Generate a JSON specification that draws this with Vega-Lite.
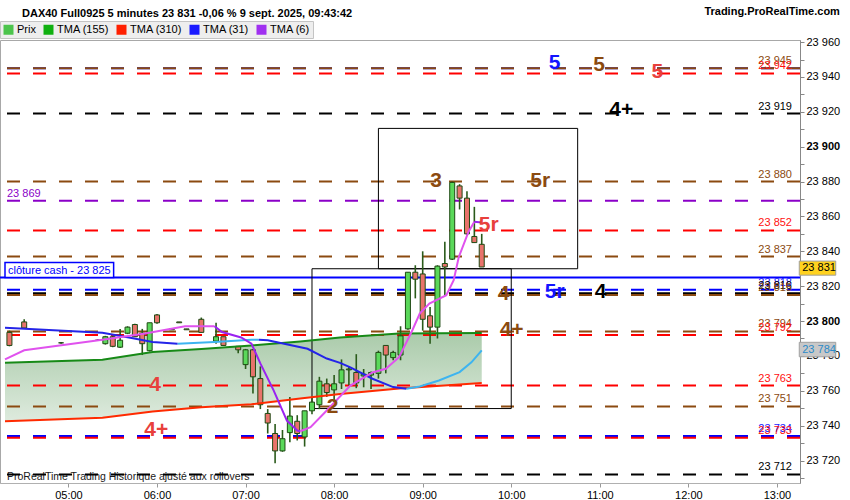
{
  "$schema": "https://vega.github.io/schema/vega-lite/v6.json",
  "width": 800,
  "height": 443,
  "autosize": {"type": "none"},
  "padding": {"top": 40, "left": 0, "right": 50, "bottom": 17},
  "background": "#ffffff",
  "title": {"text": "DAX40 Full0925 5 minutes 23 831 -0,06 % 9 sept. 2025, 09:43:42", "anchor": "start", "frame": "group", "dx": 22, "offset": -13, "fontSize": 11, "fontWeight": "bold", "font": "Liberation Sans", "color": "#000000"},
  "config": {
    "view": {"stroke": "#a8a8a8", "fill": {"gradient": "linear", "x1": 0, "y1": 0, "x2": 0, "y2": 1, "stops": [{"offset": 0, "color": "#ececec"}, {"offset": 1, "color": "#bcbcbc"}]}},
    "font": "Liberation Sans",
    "axis": {"labelFont": "Liberation Sans"},
    "text": {"font": "Liberation Sans"},
    "legend": {"labelFont": "Liberation Sans"}
  },
  "datasets": {
    "candles": [
      {"t": "2025-09-09T04:20:00", "o": 23793.5, "h": 23794.5, "l": 23785.5, "c": 23786},
      {"t": "2025-09-09T04:30:00", "o": 23799.5, "h": 23801, "l": 23795.5, "c": 23796},
      {"t": "2025-09-09T04:55:00", "o": 23787.5, "h": 23788, "l": 23787, "c": 23787.5},
      {"t": "2025-09-09T05:20:00", "o": 23789, "h": 23789.5, "l": 23788.5, "c": 23789},
      {"t": "2025-09-09T05:25:00", "o": 23787, "h": 23791.5, "l": 23786.5, "c": 23791},
      {"t": "2025-09-09T05:30:00", "o": 23791, "h": 23791.5, "l": 23785, "c": 23785.5},
      {"t": "2025-09-09T05:35:00", "o": 23785, "h": 23795.5, "l": 23784.5, "c": 23789},
      {"t": "2025-09-09T05:40:00", "o": 23793, "h": 23797, "l": 23792.5, "c": 23796.5},
      {"t": "2025-09-09T05:45:00", "o": 23798, "h": 23798.5, "l": 23791, "c": 23791},
      {"t": "2025-09-09T05:50:00", "o": 23793, "h": 23795.5, "l": 23780.5, "c": 23787},
      {"t": "2025-09-09T05:55:00", "o": 23783, "h": 23799, "l": 23782.5, "c": 23799},
      {"t": "2025-09-09T06:00:00", "o": 23803.5, "h": 23804, "l": 23798.5, "c": 23799},
      {"t": "2025-09-09T06:10:00", "o": 23795.5, "h": 23795.5, "l": 23795, "c": 23795},
      {"t": "2025-09-09T06:15:00", "o": 23799.5, "h": 23799.5, "l": 23799, "c": 23799},
      {"t": "2025-09-09T06:20:00", "o": 23795.5, "h": 23795.5, "l": 23795, "c": 23795},
      {"t": "2025-09-09T06:30:00", "o": 23801, "h": 23802, "l": 23793.5, "c": 23793.5},
      {"t": "2025-09-09T06:40:00", "o": 23788.5, "h": 23799, "l": 23787, "c": 23791},
      {"t": "2025-09-09T06:45:00", "o": 23791, "h": 23791, "l": 23786, "c": 23786},
      {"t": "2025-09-09T06:55:00", "o": 23785.5, "h": 23785.5, "l": 23781.5, "c": 23783.5},
      {"t": "2025-09-09T07:00:00", "o": 23775, "h": 23784, "l": 23772.5, "c": 23783.5},
      {"t": "2025-09-09T07:05:00", "o": 23783.5, "h": 23784, "l": 23758.5, "c": 23768},
      {"t": "2025-09-09T07:10:00", "o": 23767, "h": 23774, "l": 23749.5, "c": 23752},
      {"t": "2025-09-09T07:15:00", "o": 23747, "h": 23749.5, "l": 23735.5, "c": 23741.5},
      {"t": "2025-09-09T07:20:00", "o": 23735.5, "h": 23741, "l": 23718.5, "c": 23725.5},
      {"t": "2025-09-09T07:25:00", "o": 23725.5, "h": 23737.5, "l": 23725, "c": 23732.5},
      {"t": "2025-09-09T07:30:00", "o": 23736, "h": 23756.5, "l": 23730.5, "c": 23745.5},
      {"t": "2025-09-09T07:35:00", "o": 23742.5, "h": 23746, "l": 23731.5, "c": 23735.5},
      {"t": "2025-09-09T07:40:00", "o": 23733.5, "h": 23748.5, "l": 23728, "c": 23748.5},
      {"t": "2025-09-09T07:45:00", "o": 23748.5, "h": 23756.5, "l": 23746.5, "c": 23753.5},
      {"t": "2025-09-09T07:50:00", "o": 23752, "h": 23768, "l": 23749.5, "c": 23765.5},
      {"t": "2025-09-09T07:55:00", "o": 23764, "h": 23767, "l": 23756.5, "c": 23759},
      {"t": "2025-09-09T08:00:00", "o": 23760.5, "h": 23769, "l": 23753.5, "c": 23764},
      {"t": "2025-09-09T08:05:00", "o": 23764.5, "h": 23778, "l": 23761, "c": 23772},
      {"t": "2025-09-09T08:10:00", "o": 23772, "h": 23774, "l": 23763, "c": 23772.5},
      {"t": "2025-09-09T08:15:00", "o": 23770.5, "h": 23781, "l": 23761.5, "c": 23764.5},
      {"t": "2025-09-09T08:20:00", "o": 23768.5, "h": 23772.5, "l": 23762, "c": 23769.5},
      {"t": "2025-09-09T08:25:00", "o": 23769, "h": 23771, "l": 23761, "c": 23770.5},
      {"t": "2025-09-09T08:30:00", "o": 23770, "h": 23783, "l": 23767, "c": 23782},
      {"t": "2025-09-09T08:35:00", "o": 23786, "h": 23786, "l": 23770, "c": 23780.5},
      {"t": "2025-09-09T08:40:00", "o": 23779, "h": 23783, "l": 23777.5, "c": 23782},
      {"t": "2025-09-09T08:45:00", "o": 23780.5, "h": 23797, "l": 23777.5, "c": 23791.5},
      {"t": "2025-09-09T08:50:00", "o": 23795.5, "h": 23828, "l": 23795, "c": 23828},
      {"t": "2025-09-09T08:55:00", "o": 23828, "h": 23832, "l": 23813, "c": 23824},
      {"t": "2025-09-09T09:00:00", "o": 23827, "h": 23840, "l": 23794.5, "c": 23801},
      {"t": "2025-09-09T09:05:00", "o": 23803, "h": 23808, "l": 23787, "c": 23796.5},
      {"t": "2025-09-09T09:10:00", "o": 23796.5, "h": 23832, "l": 23790, "c": 23831.5},
      {"t": "2025-09-09T09:15:00", "o": 23833, "h": 23845.5, "l": 23815, "c": 23831},
      {"t": "2025-09-09T09:20:00", "o": 23835.5, "h": 23880, "l": 23835, "c": 23879.5},
      {"t": "2025-09-09T09:25:00", "o": 23877.5, "h": 23878.5, "l": 23864, "c": 23870.5},
      {"t": "2025-09-09T09:30:00", "o": 23870.5, "h": 23874.5, "l": 23849.5, "c": 23850},
      {"t": "2025-09-09T09:35:00", "o": 23848.5, "h": 23865.5, "l": 23845, "c": 23845},
      {"t": "2025-09-09T09:40:00", "o": 23844, "h": 23850, "l": 23831, "c": 23831}
    ],
    "band": [
      {"t": "2025-09-09T04:17:00", "g": 23776.1, "r": 23742.5},
      {"t": "2025-09-09T05:23:00", "g": 23777.8, "r": 23744.5},
      {"t": "2025-09-09T05:57:00", "g": 23782.3, "r": 23748.1},
      {"t": "2025-09-09T06:30:00", "g": 23784, "r": 23750.6},
      {"t": "2025-09-09T07:04:00", "g": 23786, "r": 23752.3},
      {"t": "2025-09-09T07:37:00", "g": 23788.3, "r": 23755.6},
      {"t": "2025-09-09T08:04:00", "g": 23790.5, "r": 23758.2},
      {"t": "2025-09-09T08:44:00", "g": 23792.8, "r": 23761.3},
      {"t": "2025-09-09T09:40:00", "g": 23793.1, "r": 23764.4}
    ],
    "ma": [
      {"t": "2025-09-09T04:17:00", "v": 23796.2, "seg": "b1", "trend": "31 baisse"},
      {"t": "2025-09-09T05:23:00", "v": 23793.3, "seg": "b1", "trend": "31 baisse"},
      {"t": "2025-09-09T05:41:00", "v": 23790.5, "seg": "b1", "trend": "31 baisse"},
      {"t": "2025-09-09T05:57:00", "v": 23788, "seg": "b1", "trend": "31 baisse"},
      {"t": "2025-09-09T06:14:00", "v": 23787, "seg": "b1", "trend": "31 baisse"},
      {"t": "2025-09-09T06:14:00", "v": 23787, "seg": "b2", "trend": "31 hausse"},
      {"t": "2025-09-09T06:39:00", "v": 23788, "seg": "b2", "trend": "31 hausse"},
      {"t": "2025-09-09T07:04:00", "v": 23789.3, "seg": "b2", "trend": "31 hausse"},
      {"t": "2025-09-09T07:09:00", "v": 23789.3, "seg": "b2", "trend": "31 hausse"},
      {"t": "2025-09-09T07:09:00", "v": 23789.3, "seg": "b3", "trend": "31 baisse"},
      {"t": "2025-09-09T07:15:00", "v": 23789, "seg": "b3", "trend": "31 baisse"},
      {"t": "2025-09-09T07:42:00", "v": 23784.1, "seg": "b3", "trend": "31 baisse"},
      {"t": "2025-09-09T07:55:00", "v": 23778.5, "seg": "b3", "trend": "31 baisse"},
      {"t": "2025-09-09T08:04:00", "v": 23776, "seg": "b3", "trend": "31 baisse"},
      {"t": "2025-09-09T08:11:00", "v": 23773.4, "seg": "b3", "trend": "31 baisse"},
      {"t": "2025-09-09T08:26:00", "v": 23766.9, "seg": "b3", "trend": "31 baisse"},
      {"t": "2025-09-09T08:40:00", "v": 23762.1, "seg": "b3", "trend": "31 baisse"},
      {"t": "2025-09-09T08:49:00", "v": 23761.2, "seg": "b3", "trend": "31 baisse"},
      {"t": "2025-09-09T08:49:00", "v": 23761.2, "seg": "b4", "trend": "31 hausse"},
      {"t": "2025-09-09T08:58:00", "v": 23762.5, "seg": "b4", "trend": "31 hausse"},
      {"t": "2025-09-09T09:11:00", "v": 23765.9, "seg": "b4", "trend": "31 hausse"},
      {"t": "2025-09-09T09:25:00", "v": 23770.7, "seg": "b4", "trend": "31 hausse"},
      {"t": "2025-09-09T09:33:00", "v": 23776.3, "seg": "b4", "trend": "31 hausse"},
      {"t": "2025-09-09T09:40:00", "v": 23783.2, "seg": "b4", "trend": "31 hausse"},
      {"t": "2025-09-09T04:17:00", "v": 23778, "seg": "p1", "trend": "6 hausse"},
      {"t": "2025-09-09T04:30:00", "v": 23783.2, "seg": "p1", "trend": "6 hausse"},
      {"t": "2025-09-09T05:23:00", "v": 23789.3, "seg": "p1", "trend": "6 hausse"},
      {"t": "2025-09-09T05:52:00", "v": 23792.8, "seg": "p1", "trend": "6 hausse"},
      {"t": "2025-09-09T06:19:00", "v": 23797, "seg": "p1", "trend": "6 hausse"},
      {"t": "2025-09-09T06:39:00", "v": 23797, "seg": "p1", "trend": "6 hausse"},
      {"t": "2025-09-09T06:39:00", "v": 23797, "seg": "p2", "trend": "6 baisse"},
      {"t": "2025-09-09T06:44:00", "v": 23793.7, "seg": "p2", "trend": "6 baisse"},
      {"t": "2025-09-09T06:57:00", "v": 23790.6, "seg": "p2", "trend": "6 baisse"},
      {"t": "2025-09-09T07:04:00", "v": 23787, "seg": "p2", "trend": "6 baisse"},
      {"t": "2025-09-09T07:10:00", "v": 23775.7, "seg": "p2", "trend": "6 baisse"},
      {"t": "2025-09-09T07:19:00", "v": 23760.2, "seg": "p2", "trend": "6 baisse"},
      {"t": "2025-09-09T07:28:00", "v": 23742.9, "seg": "p2", "trend": "6 baisse"},
      {"t": "2025-09-09T07:35:00", "v": 23737.2, "seg": "p2", "trend": "6 baisse"},
      {"t": "2025-09-09T07:37:00", "v": 23736.8, "seg": "p2", "trend": "6 baisse"},
      {"t": "2025-09-09T07:37:00", "v": 23736.8, "seg": "p3", "trend": "6 hausse"},
      {"t": "2025-09-09T07:44:00", "v": 23739.1, "seg": "p3", "trend": "6 hausse"},
      {"t": "2025-09-09T07:55:00", "v": 23748.7, "seg": "p3", "trend": "6 hausse"},
      {"t": "2025-09-09T08:11:00", "v": 23763, "seg": "p3", "trend": "6 hausse"},
      {"t": "2025-09-09T08:26:00", "v": 23770.5, "seg": "p3", "trend": "6 hausse"},
      {"t": "2025-09-09T08:35:00", "v": 23772.6, "seg": "p3", "trend": "6 hausse"},
      {"t": "2025-09-09T08:44:00", "v": 23779.3, "seg": "p3", "trend": "6 hausse"},
      {"t": "2025-09-09T08:53:00", "v": 23794.7, "seg": "p3", "trend": "6 hausse"},
      {"t": "2025-09-09T08:58:00", "v": 23804.3, "seg": "p3", "trend": "6 hausse"},
      {"t": "2025-09-09T09:04:30", "v": 23810, "seg": "p3", "trend": "6 hausse"},
      {"t": "2025-09-09T09:16:00", "v": 23814.8, "seg": "p3", "trend": "6 hausse"},
      {"t": "2025-09-09T09:21:00", "v": 23823.4, "seg": "p3", "trend": "6 hausse"},
      {"t": "2025-09-09T09:24:30", "v": 23836.8, "seg": "p3", "trend": "6 hausse"},
      {"t": "2025-09-09T09:31:00", "v": 23851.1, "seg": "p3", "trend": "6 hausse"},
      {"t": "2025-09-09T09:35:00", "v": 23856.9, "seg": "p3", "trend": "6 hausse"},
      {"t": "2025-09-09T09:35:00", "v": 23856.9, "seg": "p4", "trend": "6 baisse"},
      {"t": "2025-09-09T09:40:00", "v": 23856.5, "seg": "p4", "trend": "6 baisse"}
    ],
    "levels": [
      {"v": 23945, "g": "bleu", "lab": ""},
      {"v": 23945, "g": "brun", "lab": "23 945"},
      {"v": 23942, "g": "rouge", "lab": "23 942"},
      {"v": 23919, "g": "noir", "lab": "23 919"},
      {"v": 23880, "g": "brun", "lab": "23 880"},
      {"v": 23869, "g": "violet", "lab": ""},
      {"v": 23852, "g": "rouge", "lab": "23 852"},
      {"v": 23837, "g": "brun", "lab": "23 837"},
      {"v": 23818, "g": "bleu", "lab": "23 818"},
      {"v": 23816, "g": "noir", "lab": "23 816"},
      {"v": 23815, "g": "brun", "lab": "23 815"},
      {"v": 23794, "g": "brun", "lab": "23 794"},
      {"v": 23792, "g": "rouge", "lab": "23 792"},
      {"v": 23763, "g": "rouge", "lab": "23 763"},
      {"v": 23751, "g": "brun", "lab": "23 751"},
      {"v": 23734, "g": "bleu", "lab": "23 734"},
      {"v": 23733, "g": "rouge", "lab": "23 733"},
      {"v": 23712, "g": "noir", "lab": "23 712"}
    ],
    "marks": [
      {"t": "2025-09-09T10:29:24", "v": 23948.0, "txt": "5", "g": "bleu"},
      {"t": "2025-09-09T10:59:36", "v": 23946.7, "txt": "5", "g": "brun"},
      {"t": "2025-09-09T11:39:00", "v": 23942.7, "txt": "5", "g": "rouge"},
      {"t": "2025-09-09T11:14:30", "v": 23920.8, "txt": "4+", "g": "noir"},
      {"t": "2025-09-09T09:09:00", "v": 23880.3, "txt": "3", "g": "brun"},
      {"t": "2025-09-09T10:19:36", "v": 23880.3, "txt": "5r", "g": "brun"},
      {"t": "2025-09-09T09:44:42", "v": 23855.1, "txt": "5r", "g": "rouge"},
      {"t": "2025-09-09T09:54:48", "v": 23815.5, "txt": "4", "g": "brun"},
      {"t": "2025-09-09T10:29:24", "v": 23816.6, "txt": "5r", "g": "bleu"},
      {"t": "2025-09-09T11:00:30", "v": 23816.6, "txt": "4", "g": "noir"},
      {"t": "2025-09-09T10:00:15", "v": 23794.8, "txt": "4+", "g": "brun"},
      {"t": "2025-09-09T05:58:42", "v": 23763.4, "txt": "4", "g": "rouge"},
      {"t": "2025-09-09T05:59:30", "v": 23737.6, "txt": "4+", "g": "rouge"},
      {"t": "2025-09-09T07:59:00", "v": 23750.8, "txt": "2", "g": "brun"}
    ],
    "boxes": [
      {"t1": "2025-09-09T08:30:00", "t2": "2025-09-09T10:45:00", "v1": 23830, "v2": 23910.5},
      {"t1": "2025-09-09T07:45:00", "t2": "2025-09-09T10:00:00", "v1": 23749.8, "v2": 23830}
    ],
    "tags": [
      {"t1": "2025-09-09T13:15:08", "t2": "2025-09-09T13:39:51", "v1": 23826.3, "v2": 23834.4, "vm": 23830.3, "lab": "23 831", "g": "prix"},
      {"t1": "2025-09-09T13:15:08", "t2": "2025-09-09T13:39:51", "v1": 23779.5, "v2": 23787.8, "vm": 23783.6, "lab": "23 784", "g": "tma31"}
    ],
    "legende": [
      {"serie": "Prix"}, {"serie": "TMA (155)"}, {"serie": "TMA (310)"}, {"serie": "TMA (31)"}, {"serie": "TMA (6)"}
    ]
  },
  "resolve": {"scale": {"color": "independent"}, "axis": {"y": "independent"}},
  "layer": [
    {
      "data": {"name": "band"},
      "mark": {"type": "area", "clip": false, "color": {"gradient": "linear", "x1": 0, "y1": 0, "x2": 0, "y2": 1, "stops": [{"offset": 0, "color": "rgba(20,110,20,0.36)"}, {"offset": 1, "color": "rgba(20,110,20,0.14)"}]}},
      "encoding": {
        "x": {"field": "t", "type": "temporal",
          "scale": {"domain": [{"year": 2025, "month": 9, "date": 9, "hours": 4, "minutes": 17}, {"year": 2025, "month": 9, "date": 9, "hours": 13, "minutes": 12, "seconds": 15}]},
          "axis": {"title": null, "grid": false, "format": "%H:%M", "labelFlush": false,
            "values": [
              {"year": 2025, "month": 9, "date": 9, "hours": 5},
              {"year": 2025, "month": 9, "date": 9, "hours": 6},
              {"year": 2025, "month": 9, "date": 9, "hours": 7},
              {"year": 2025, "month": 9, "date": 9, "hours": 8},
              {"year": 2025, "month": 9, "date": 9, "hours": 9},
              {"year": 2025, "month": 9, "date": 9, "hours": 10},
              {"year": 2025, "month": 9, "date": 9, "hours": 11},
              {"year": 2025, "month": 9, "date": 9, "hours": 12},
              {"year": 2025, "month": 9, "date": 9, "hours": 13}
            ],
            "labelFontSize": 11, "labelColor": "#000000", "tickColor": "#999999", "tickSize": 4, "domainColor": "#b0b0b0", "labelPadding": 2}},
        "y": {"field": "g", "type": "quantitative",
          "scale": {"domain": [23707.1, 23961.2], "nice": false, "zero": false},
          "axis": {"orient": "right", "title": null, "grid": false,
            "values": [23710, 23720, 23730, 23740, 23750, 23760, 23770, 23780, 23790, 23800, 23810, 23820, 23830, 23840, 23850, 23860, 23870, 23880, 23890, 23900, 23910, 23920, 23930, 23940, 23950, 23960],
            "labelExpr": "datum.value % 20 === 0 ? replace(format(datum.value, ','), ',', ' ') : ''",
            "labelFontWeight": {"condition": {"test": "datum.value % 100 === 0", "value": "bold"}, "value": "normal"},
            "labelFontSize": 11, "labelColor": "#000000", "tickColor": "#888888", "tickSize": 4, "domainColor": "#888888", "labelPadding": 2, "labelOverlap": false, "labelBound": false, "labelFlush": false}},
        "y2": {"field": "r"}
      }
    },
    {
      "data": {"values": [{"txt": "ProRealTime Trading  Historique ajusté aux rollovers"}]},
      "mark": {"type": "text", "align": "left", "baseline": "middle", "dx": 2, "fontSize": 10.5, "color": "#1a1a1a"},
      "encoding": {
        "x": {"datum": {"year": 2025, "month": 9, "date": 9, "hours": 4, "minutes": 17}, "type": "temporal"},
        "y": {"datum": 23710.8, "type": "quantitative", "axis": null},
        "text": {"field": "txt"}
      }
    },
    {
      "data": {"name": "levels"},
      "mark": {"type": "rule", "strokeWidth": 2, "strokeDash": [13, 13]},
      "encoding": {
        "y": {"field": "v", "type": "quantitative", "axis": null},
        "color": {"field": "g", "type": "nominal", "legend": null,
          "scale": {"domain": ["bleu", "brun", "rouge", "noir", "violet"], "range": ["#0000ff", "#8b4a10", "#ff0000", "#000000", "#8a00c8"]}}
      }
    },
    {
      "data": {"values": [{"nom": "clôture cash"}]},
      "mark": {"type": "rule", "strokeWidth": 2, "color": "#0000ff"},
      "encoding": {"y": {"datum": 23825, "type": "quantitative", "axis": null}}
    },
    {
      "data": {"name": "boxes"},
      "mark": {"type": "rect", "fill": "#ffffff", "fillOpacity": 0, "stroke": "#000000", "strokeWidth": 1},
      "encoding": {
        "x": {"field": "t1", "type": "temporal"},
        "x2": {"field": "t2"},
        "y": {"field": "v1", "type": "quantitative", "axis": null},
        "y2": {"field": "v2"}
      }
    },
    {
      "data": {"name": "candles"},
      "mark": {"type": "rule", "color": "#2a5a1a", "strokeWidth": 1.6},
      "encoding": {
        "x": {"field": "t", "type": "temporal"},
        "y": {"field": "l", "type": "quantitative", "axis": null},
        "y2": {"field": "h"}
      }
    },
    {
      "data": {"name": "candles"},
      "mark": {"type": "bar", "width": 5, "stroke": "#1f4a14", "strokeWidth": 1},
      "encoding": {
        "x": {"field": "t", "type": "temporal"},
        "y": {"field": "o", "type": "quantitative", "axis": null},
        "y2": {"field": "c"},
        "color": {"condition": {"test": "datum.c >= datum.o", "value": "#5ad85a"}, "value": "#e8736b"}
      }
    },
    {
      "data": {"name": "band"},
      "mark": {"type": "line", "color": "#178a17", "strokeWidth": 2},
      "encoding": {
        "x": {"field": "t", "type": "temporal"},
        "y": {"field": "g", "type": "quantitative", "axis": null}
      }
    },
    {
      "data": {"name": "band"},
      "mark": {"type": "line", "color": "#ff2a00", "strokeWidth": 2},
      "encoding": {
        "x": {"field": "t", "type": "temporal"},
        "y": {"field": "r", "type": "quantitative", "axis": null}
      }
    },
    {
      "data": {"name": "ma"},
      "mark": {"type": "line", "strokeWidth": 2},
      "encoding": {
        "x": {"field": "t", "type": "temporal"},
        "y": {"field": "v", "type": "quantitative", "axis": null},
        "detail": {"field": "seg"},
        "color": {"field": "trend", "type": "nominal", "legend": null,
          "scale": {"domain": ["31 baisse", "31 hausse", "6 baisse", "6 hausse"], "range": ["#2424e8", "#3db4f0", "#9a22f0", "#e052ee"]}}
      }
    },
    {
      "data": {"name": "levels"},
      "transform": [{"filter": "datum.lab != ''"}],
      "mark": {"type": "text", "align": "right", "baseline": "alphabetic", "dx": -3, "dy": -4, "fontSize": 11},
      "encoding": {
        "x": {"datum": {"year": 2025, "month": 9, "date": 9, "hours": 13, "minutes": 12, "seconds": 15}, "type": "temporal"},
        "y": {"field": "v", "type": "quantitative", "axis": null},
        "text": {"field": "lab"},
        "color": {"field": "g", "type": "nominal", "legend": null,
          "scale": {"domain": ["bleu", "brun", "rouge", "noir", "violet"], "range": ["#1a1aff", "#8b4a10", "#ff1010", "#000000", "#8a00c8"]}}
      }
    },
    {
      "data": {"values": [{"lab": "23 869"}]},
      "mark": {"type": "text", "align": "left", "baseline": "alphabetic", "dx": 2, "dy": -4, "fontSize": 11, "color": "#8a00c8"},
      "encoding": {
        "x": {"datum": {"year": 2025, "month": 9, "date": 9, "hours": 4, "minutes": 17}, "type": "temporal"},
        "y": {"datum": 23869, "type": "quantitative", "axis": null},
        "text": {"field": "lab"}
      }
    },
    {
      "data": {"values": [{"nom": "clôture cash"}]},
      "mark": {"type": "rect", "fill": "#ffffff", "stroke": "#0000ff", "strokeWidth": 1.5},
      "encoding": {
        "x": {"datum": {"year": 2025, "month": 9, "date": 9, "hours": 4, "minutes": 17}, "type": "temporal"},
        "x2": {"datum": {"year": 2025, "month": 9, "date": 9, "hours": 5, "minutes": 30, "seconds": 36}},
        "y": {"datum": 23825, "type": "quantitative", "axis": null},
        "y2": {"datum": 23833.6}
      }
    },
    {
      "data": {"values": [{"lab": "clôture cash -  23 825"}]},
      "mark": {"type": "text", "align": "left", "baseline": "alphabetic", "dx": 3, "dy": -3, "fontSize": 11, "color": "#0000ff"},
      "encoding": {
        "x": {"datum": {"year": 2025, "month": 9, "date": 9, "hours": 4, "minutes": 17}, "type": "temporal"},
        "y": {"datum": 23825, "type": "quantitative", "axis": null},
        "text": {"field": "lab"}
      }
    },
    {
      "data": {"name": "marks"},
      "mark": {"type": "text", "align": "center", "baseline": "middle", "fontSize": 21, "fontWeight": "bold"},
      "encoding": {
        "x": {"field": "t", "type": "temporal"},
        "y": {"field": "v", "type": "quantitative", "axis": null},
        "text": {"field": "txt"},
        "color": {"field": "g", "type": "nominal", "legend": null,
          "scale": {"domain": ["bleu", "brun", "rouge", "noir"], "range": ["#1414ff", "#8b4a10", "#e8403c", "#000000"]}}
      }
    },
    {
      "data": {"name": "tags"},
      "mark": {"type": "rect", "clip": false, "strokeWidth": 1},
      "encoding": {
        "x": {"field": "t1", "type": "temporal"},
        "x2": {"field": "t2"},
        "y": {"field": "v1", "type": "quantitative", "axis": null},
        "y2": {"field": "v2"},
        "color": {"field": "g", "type": "nominal", "legend": null,
          "scale": {"domain": ["prix", "tma31"], "range": ["#ffd21f", "#c8c8c8"]}},
        "stroke": {"value": "#a0a0a0"}
      }
    },
    {
      "data": {"name": "tags"},
      "mark": {"type": "text", "clip": false, "align": "left", "baseline": "middle", "dx": 3, "fontSize": 11},
      "encoding": {
        "x": {"field": "t1", "type": "temporal"},
        "y": {"field": "vm", "type": "quantitative", "axis": null},
        "text": {"field": "lab"},
        "color": {"field": "g", "type": "nominal", "legend": null,
          "scale": {"domain": ["prix", "tma31"], "range": ["#000000", "#2a8ac8"]}}
      }
    },
    {
      "data": {"values": [{"lab": "Trading.ProRealTime.com"}]},
      "mark": {"type": "text", "align": "right", "baseline": "middle", "fontSize": 11, "fontWeight": "bold", "color": "#000000"},
      "encoding": {
        "x": {"datum": {"year": 2025, "month": 9, "date": 9, "hours": 13, "minutes": 42, "seconds": 40}, "type": "temporal"},
        "y": {"datum": 23977.3, "type": "quantitative", "axis": null},
        "text": {"field": "lab"}
      }
    },
    {
      "data": {"name": "legende"},
      "mark": {"type": "point", "filled": true, "opacity": 0},
      "encoding": {
        "color": {"field": "serie", "type": "nominal",
          "scale": {"domain": ["Prix", "TMA (155)", "TMA (310)", "TMA (31)", "TMA (6)"],
            "range": ["#4cc44c", "#10b010", "#ff2000", "#1a1aff", "#a030f0"]},
          "legend": {"orient": "top", "direction": "horizontal", "title": null, "symbolType": "square", "symbolSize": 100, "symbolOpacity": 1, "symbolStrokeWidth": 0, "labelFontSize": 11, "labelColor": "#000000", "columnPadding": 7, "labelOffset": 3, "offset": 2, "padding": 3, "fillColor": "#eeeeee", "strokeColor": "#c4c4c4"}}
      }
    }
  ]
}
